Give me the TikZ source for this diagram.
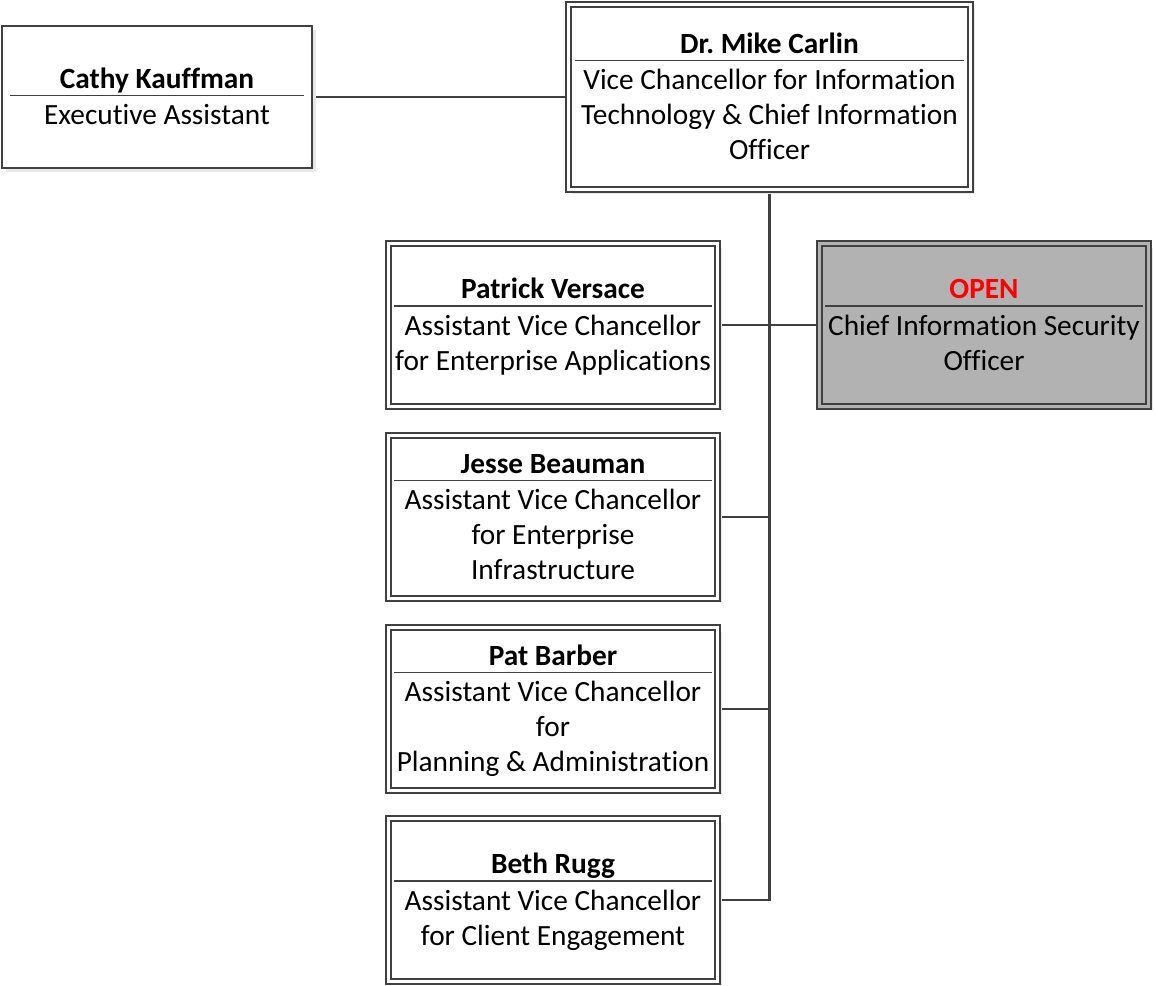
\documentclass[tikz,border=0pt]{standalone}
\usepackage{fontspec}
\setmainfont[Ligatures=NoCommon]{Carlito}
\usepackage{colortbl}
\usetikzlibrary{shadows,backgrounds}

\definecolor{linegray}{RGB}{64,64,64}
\definecolor{openfill}{RGB}{178,178,178}
\definecolor{openred}{RGB}{255,0,0}

\setlength{\arrayrulewidth}{1.1pt}
\arrayrulecolor{linegray}
\frenchspacing
% name, rule, title lines
\newcommand{\orgtext}[3]{%
  \begin{tabular}{@{}c@{}}\noalign{\vskip4pt}\makebox[#1]{\textbf{#2}}\\
  \noalign{\vskip-3pt}\hline\noalign{\vskip3pt}#3\end{tabular}}

\tikzset{
  orgshadow/.style={drop shadow={shadow xshift=3pt,shadow yshift=-3pt,fill=black!9,opacity=1}},
  orgbox/.style={draw=linegray, line width=1.4pt, double=white, double distance=2.2pt,
    fill=white, inner sep=0pt, font=\fontsize{22}{26.25}\selectfont,
    minimum width=247pt, minimum height=121.8pt, orgshadow},
  openbox/.style={orgbox, fill=openfill, double=openfill},
  plainbox/.style={draw=linegray, line width=1.5pt, fill=white, inner sep=0pt,
    font=\fontsize{22}{26.25}\selectfont,
    minimum width=232.5pt, minimum height=106.5pt, orgshadow},
  link/.style={draw=linegray, line width=1.6pt},
  trunk/.style={draw=linegray, line width=2.2pt}
}

\begin{document}
\begin{tikzpicture}[x=0.75pt,y=-0.75pt]
\useasboundingbox (0,0) rectangle (1156,985);

% top row
\node[plainbox] (cathy) at (157,97) {\orgtext{220pt}{Cathy Kauffman}{Executive Assistant}};
\node[orgbox, minimum width=301.8pt, minimum height=139pt] (carlin) at (769.5,97)
  {\orgtext{292pt}{Dr. Mike Carlin}{Vice Chancellor for Information\\Technology \& Chief Information\\Officer}};

% direct reports
\node[orgbox] (pv) at (553,325) {\orgtext{238pt}{Patrick Versace}{Assistant Vice Chancellor\\for Enterprise Applications}};
\node[openbox] (ciso) at (984,325) {\orgtext{238pt}{\textcolor{openred}{OPEN}}{Chief Information Security\\Officer}};
\node[orgbox] (jb) at (553,517) {\orgtext{238pt}{Jesse Beauman}{Assistant Vice Chancellor\\for Enterprise\\Infrastructure}};
\node[orgbox] (pb) at (553,709) {\orgtext{238pt}{Pat Barber}{Assistant Vice Chancellor\\for\\Planning \& Administration}};
\node[orgbox] (br) at (553,900) {\orgtext{238pt}{Beth Rugg}{Assistant Vice Chancellor\\for Client Engagement}};

% connectors
\begin{scope}[on background layer]
\draw[link] (cathy) -- (carlin);
\draw[trunk] (carlin.south) |- (br.east);
\draw[link] (pv.east) -- (ciso.west);
\draw[link] (jb.east) -- (jb.east -| carlin.south);
\draw[link] (pb.east) -- (pb.east -| carlin.south);
\end{scope}
\end{tikzpicture}
\end{document}
